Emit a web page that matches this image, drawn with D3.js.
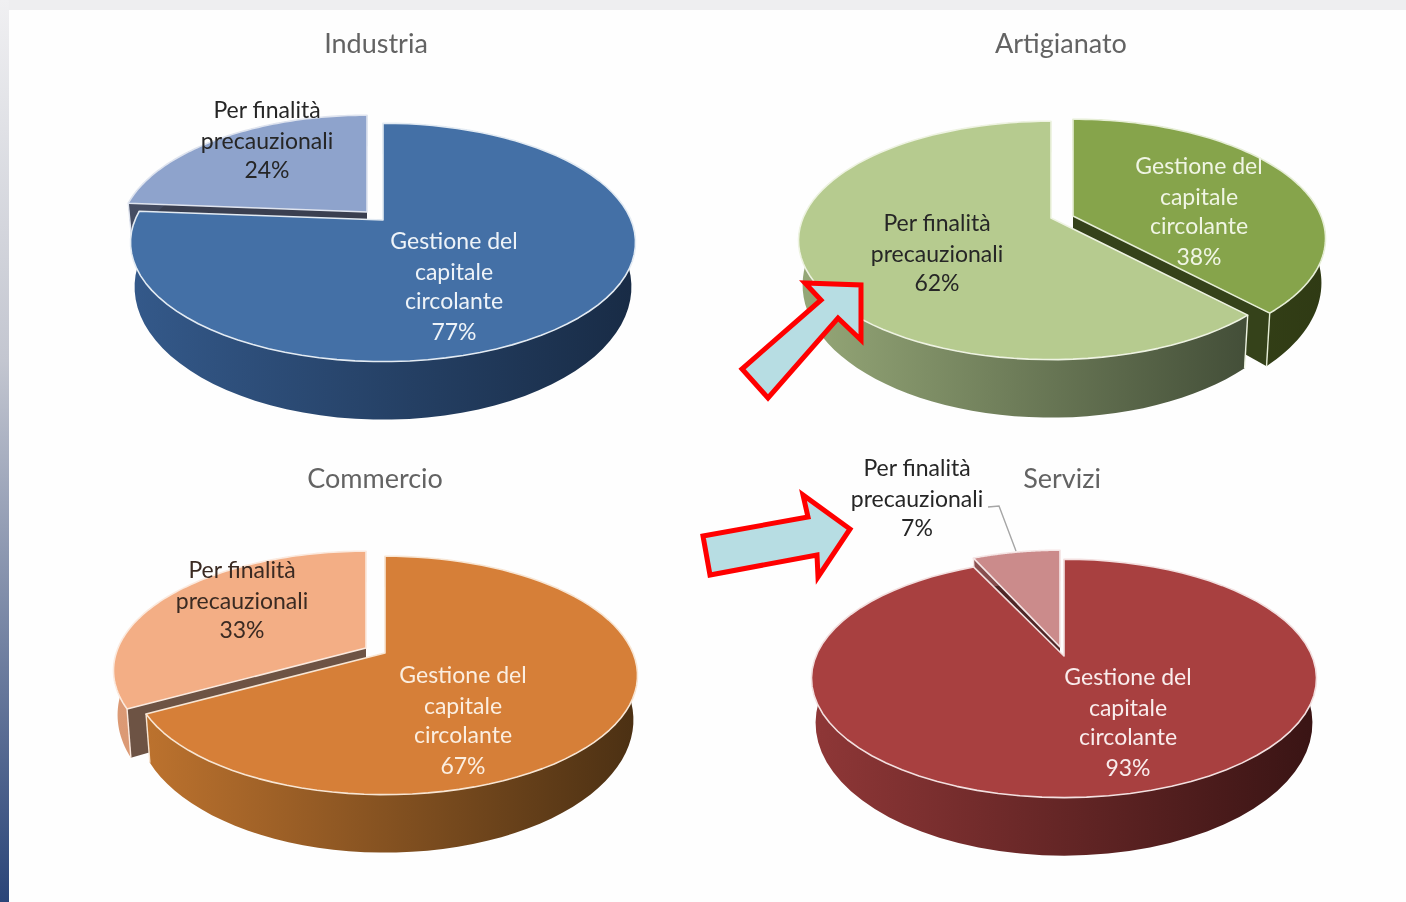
<!DOCTYPE html>
<html>
<head>
<meta charset="utf-8">
<script src="https://cdn.jsdelivr.net/npm/d3@7"></script>
<style>
  html, body { margin: 0; padding: 0; background: #fefefe; overflow: hidden; }
  text { font-family: Lato, "Open Sans", sans-serif; }
  .soft { filter: blur(0.45px); }
</style>
</head>
<body>
<script>
// values
const titles = ['Industria', 'Artigianato', 'Commercio', 'Servizi'];
const gestione = [77, 38, 67, 93];
const precauzionali = [24, 62, 33, 7];
const gestioneLabel = ['Gestione del', 'capitale', 'circolante'];
const precauzLabel = ['Per finalità', 'precauzionali'];

const w = 1406, h = 902;

// screen layout of each pie: apex of the two exploded slices, title, labels
const layout = [
  { title: [376, 44],
    gest: { apex: [383, 220], label: [454, 241], top: '#4470a6', light: '#e3ebf3', cut: '#2b4565', wall: ['#34598a', '#182b45'], text: '#eef3f8' },
    prec: { apex: [367, 212], rx: 243, label: [267, 110], top: '#8ea3cc', light: '#dfe4ef', cut: '#3a3f50', wall: ['#454d63', '#3a3f50'], text: '#262626' } },
  { title: [1061, 44],
    gest: { apex: [1073, 216], label: [1199, 166], top: '#86a44b', light: '#e6eed6', cut: '#35421a', wall: ['#3d4b1c', '#2f3a14'], text: '#f0f5e4' },
    prec: { apex: [1051, 218], label: [937, 223], top: '#b6cb8f', light: '#eef3e2', cut: '#6e7d55', wall: ['#96a878', '#434e38'], text: '#262626' } },
  { title: [375, 479],
    gest: { apex: [385, 653], label: [463, 675], top: '#d67f38', light: '#f8e6d4', cut: '#8a5220', wall: ['#bc722e', '#4b3013'], text: '#fbeee0' },
    prec: { apex: [366, 648], label: [242, 570], top: '#f3ae85', light: '#fbeadf', cut: '#6d5344', wall: ['#dc9a75', '#c98a66'], text: '#3a2a22' } },
  { title: [1062, 479],
    gest: { apex: [1064, 656], label: [1128, 677], top: '#a84040', light: '#f3e0e0', cut: '#6a2828', wall: ['#8f3737', '#391414'], text: '#f9ecec' },
    prec: { apex: [1060, 647], rx: 238, label: [917, 468], top: '#cb8b8b', light: '#f5e6e6', cut: '#4e2626', wall: ['#8a5050', '#6e3c3c'], text: '#262626' } }
];

// perspective of the disc, same for all four
const Rx = 248, Ry = 115, k = 0.188;   // top rim
const Rx2 = 244, Ry2 = 128, drop = 42; // bottom rim

function rim(s, a) {
  let u = Math.sin(a), v = -Math.cos(a), p = 1 - k * v;
  return [s.apex[0] + (s.rx || Rx) * u / p, s.apex[1] + Ry * v / p];
}
function rimBottom(s, a) {
  let u = Math.sin(a), v = -Math.cos(a), p = 1 - k * v;
  return [s.apex[0] + ((s.rx || Rx) - 4) * u / p, s.apex[1] + drop + Ry2 * v / p];
}
function sweep(a0, a1) {
  let s = d3.scaleLinear().domain([0, 80]).range([a0, a1]);
  return d3.range(81).map(s);
}

const line = d3.line();
const closed = pts => line(pts) + 'Z';

const svg = d3.select('body').append('svg')
  .attr('width', w).attr('height', h)
  .style('display', 'block');

const defs = svg.append('defs');
const strip = defs.append('linearGradient').attr('id', 'strip')
  .attr('x1', 0).attr('y1', 0).attr('x2', 0).attr('y2', 1);
strip.append('stop').attr('offset', 0).attr('stop-color', '#f0f0f2');
strip.append('stop').attr('offset', 0.4).attr('stop-color', '#c3c6d0');
strip.append('stop').attr('offset', 1).attr('stop-color', '#2a4478');

svg.append('rect').attr('width', w).attr('height', 10).attr('fill', '#eeeef0');
svg.append('rect').attr('width', 9).attr('height', h).attr('fill', 'url(#strip)');

const pie = d3.pie().sort(null).value(d => d);

titles.forEach(function(title, i) {
  let conf = layout[i];
  let slices = pie([gestione[i], precauzionali[i]]);
  let parts = [
    { arc: slices[0], style: conf.gest, id: 'g' + i },
    { arc: slices[1], style: conf.prec, id: 'p' + i }
  ];
  // the smaller slice always sits behind
  parts.sort((a, b) => a.arc.value - b.arc.value);

  let g = svg.append('g').attr('class', 'pie soft');

  parts.forEach(function(part) {
    let s = part.style;
    let a0 = part.arc.startAngle, a1 = part.arc.endAngle;
    let angles = sweep(a0, a1);

    let grad = defs.append('linearGradient').attr('id', 'wall' + part.id);
    grad.append('stop').attr('offset', 0).attr('stop-color', s.wall[0]);
    grad.append('stop').attr('offset', 1).attr('stop-color', s.wall[1]);

    // the two cut faces, wall goes over the one that faces away
    [a0, a1].forEach(function(a) {
      g.append('path')
        .attr('d', closed([s.apex, rim(s, a), rimBottom(s, a), [s.apex[0], s.apex[1] + drop]]))
        .attr('fill', s.cut);
    });

    // outer wall
    g.append('path')
      .attr('d', closed(angles.map(a => rim(s, a)).concat(angles.slice().reverse().map(a => rimBottom(s, a)))))
      .attr('fill', 'url(#wall' + part.id + ')');

    [a0, a1].forEach(function(a) {
      g.append('path')
        .attr('d', line([rim(s, a), rimBottom(s, a)]))
        .attr('stroke', s.light).attr('stroke-width', 1.4).attr('fill', 'none');
    });

    // top face
    g.append('path')
      .attr('d', closed([s.apex].concat(angles.map(a => rim(s, a)))))
      .attr('fill', s.top)
      .attr('stroke', s.light).attr('stroke-width', 1.6).attr('stroke-linejoin', 'round');
  });

  // title
  svg.append('text')
    .attr('class', 'soft')
    .attr('x', conf.title[0]).attr('y', conf.title[1]).attr('dy', '0.35em')
    .attr('text-anchor', 'middle')
    .attr('font-size', 27).attr('fill', '#636363')
    .text(title);

  // slice labels
  let gap = [0, 31, 60, 91];
  let gLines = gestioneLabel.concat(gestione[i] + '%');
  let pLines = precauzLabel.concat(precauzionali[i] + '%');
  [[gLines, conf.gest], [pLines, conf.prec]].forEach(function(pair) {
    pair[0].forEach(function(txt, j) {
      svg.append('text')
        .attr('class', 'soft')
        .attr('x', pair[1].label[0]).attr('y', pair[1].label[1] + gap[j]).attr('dy', '0.35em')
        .attr('text-anchor', 'middle')
        .attr('font-size', 23).attr('fill', pair[1].text)
        .text(txt);
    });
  });
});

// leader line of the Servizi small slice
svg.append('path')
  .attr('class', 'soft')
  .attr('d', line([[988, 507], [999, 506], [1016, 551]]))
  .attr('fill', 'none').attr('stroke', '#a6a6a6').attr('stroke-width', 1.4);

// the two red arrows
const arrows = [
  [[805, 283], [861, 285], [861, 340], [838, 318], [768, 398], [742, 369], [821, 300]],
  [[703, 536], [808, 517], [803, 495], [850, 529], [818, 577], [817, 555], [710, 575]]
];
svg.selectAll('path.arrow').data(arrows).enter().append('path')
  .attr('class', 'arrow')
  .attr('d', closed)
  .attr('fill', '#b7dde3').attr('stroke', '#ff0000').attr('stroke-width', 5)
  .attr('stroke-linejoin', 'miter');
</script>
</body>
</html>
